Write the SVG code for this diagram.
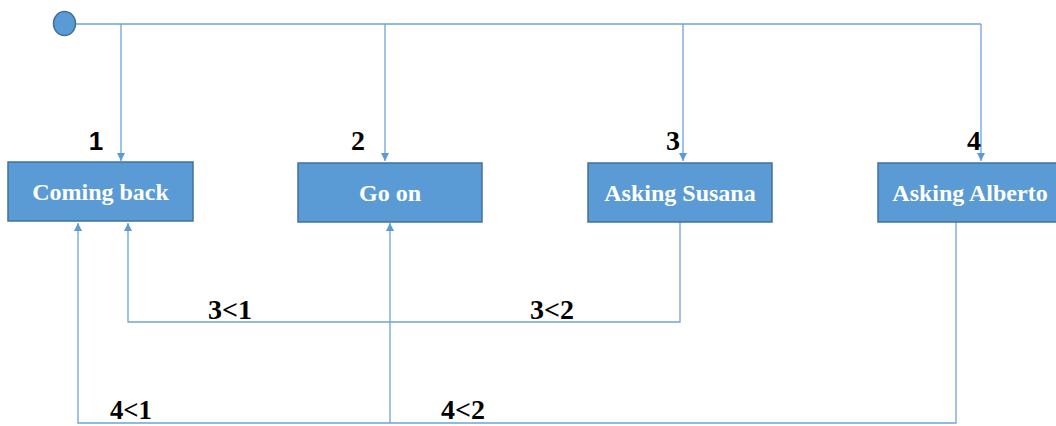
<svg xmlns="http://www.w3.org/2000/svg" width="1056" height="426" viewBox="0 0 1056 426">
<style>
.box{fill:#5B9BD5;stroke:#41719C;stroke-width:1.5}
.bt{font-family:"Liberation Serif",serif;font-weight:bold;font-size:24px;fill:#fff;text-anchor:middle}
.lb{font-family:"Liberation Serif",serif;font-weight:bold;font-size:28px;fill:#000;text-anchor:middle}
.ln{fill:none;stroke:#6FA3DA;stroke-width:1.3}
</style>
<defs>
<marker id="ah" viewBox="0 0 10 10" refX="10" refY="5" markerWidth="8" markerHeight="8" markerUnits="userSpaceOnUse" orient="auto">
<path d="M0,0 L10,5 L0,10 z" fill="#5B9BD5"/>
</marker>
</defs>
<g id="connectors">
<path class="ln" d="M76,24 H981"/>
<path class="ln" d="M121,24 V161" marker-end="url(#ah)"/>
<path class="ln" d="M385,24 V161" marker-end="url(#ah)"/>
<path class="ln" d="M683,24 V161" marker-end="url(#ah)"/>
<path class="ln" d="M981,24 V161" marker-end="url(#ah)"/>
<path class="ln" d="M680,222 V322 H128 V223" marker-end="url(#ah)"/>
<path class="ln" d="M956,222 V423 H78 V223" marker-end="url(#ah)"/>
<path class="ln" d="M390,423 V223" marker-end="url(#ah)"/>
<text class="lb" x="230" y="319">3&lt;1</text>
<text class="lb" x="552" y="319">3&lt;2</text>
<text class="lb" x="131" y="419" textLength="42" lengthAdjust="spacingAndGlyphs">4&lt;1</text>
<text class="lb" x="463" y="419">4&lt;2</text>
</g>
<g id="start">
<ellipse cx="64.5" cy="23.5" rx="11" ry="12" fill="#5B9BD5" stroke="#41719C" stroke-width="1.5"/>
</g>
<g id="node1">
<text x="96" y="150" font-family="Liberation Sans,sans-serif" font-weight="bold" font-size="26" text-anchor="middle">1</text>
<rect class="box" x="8" y="162" width="185" height="59"/>
<text class="bt" x="100.5" y="200">Coming back</text>
</g>
<g id="node2">
<text class="lb" x="358" y="150">2</text>
<rect class="box" x="298" y="163" width="184" height="59"/>
<text class="bt" x="390" y="201">Go on</text>
</g>
<g id="node3">
<text class="lb" x="673" y="150">3</text>
<rect class="box" x="588" y="163" width="184" height="59"/>
<text class="bt" x="680" y="201">Asking Susana</text>
</g>
<g id="node4">
<text class="lb" x="974" y="150">4</text>
<rect class="box" x="878" y="163" width="184" height="59"/>
<text class="bt" x="970" y="201">Asking Alberto</text>
</g>
</svg>
